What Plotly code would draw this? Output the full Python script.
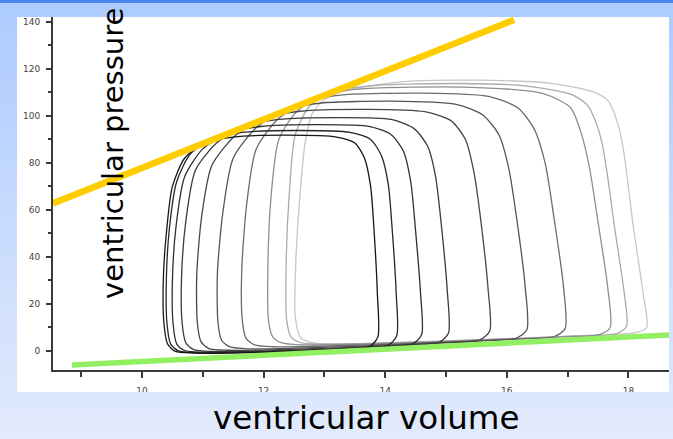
import plotly.graph_objects as go

# ---------------- data ----------------
# volume (x) / pressure (y) points of each pressure-volume loop, smallest -> largest
loop1_vol = [12.0, 13.3, 13.75, 13.88, 13.87, 13.82, 13.76, 13.66, 13.5, 13.2, 12.4, 11.5, 11.03, 10.7, 10.5, 10.4, 10.35, 10.36, 10.42, 10.55, 10.85, 12.0]
loop1_pres = [-0.6, 0.8, 2.0, 6, 25, 50, 70, 82, 88.5, 91, 91.8, 91, 88.5, 82, 70, 50, 30, 12, 3, -0.2, -0.9, -0.6]

loop2_vol = [12.2, 13.6, 14.05, 14.19, 14.18, 14.12, 14.05, 13.94, 13.76, 13.42, 12.6, 11.65, 11.2, 10.8, 10.57, 10.45, 10.40, 10.41, 10.47, 10.6, 10.9, 12.2]
loop2_pres = [-0.3, 1.3, 2.5, 6.5, 25, 50, 71, 83, 90, 93, 93.8, 93, 90.5, 84, 72, 52, 30, 12, 3, 0, -0.7, -0.3]

loop3_vol = [12.4, 14.0, 14.45, 14.60, 14.58, 14.5, 14.42, 14.3, 14.1, 13.75, 12.9, 11.95, 11.45, 11.0, 10.7, 10.56, 10.50, 10.51, 10.57, 10.7, 11.0, 12.4]
loop3_pres = [0.0, 1.8, 3.0, 7, 25, 51, 72, 85, 92, 95.5, 96.3, 95.5, 93, 86, 74, 53, 30, 12, 3, 0.2, -0.5, 0.0]

loop4_vol = [12.7, 14.4, 14.88, 15.04, 15.02, 14.93, 14.83, 14.7, 14.48, 14.1, 13.2, 12.25, 11.75, 11.25, 10.88, 10.72, 10.65, 10.66, 10.72, 10.85, 11.15, 12.7]
loop4_pres = [0.5, 2.5, 3.6, 7.5, 26, 52, 74, 87, 94.5, 98.5, 99.3, 98.5, 96, 89, 77, 55, 31, 12, 3.5, 0.6, -0.2, 0.5]

loop5_vol = [13.2, 15.0, 15.55, 15.72, 15.69, 15.58, 15.46, 15.32, 15.08, 14.65, 13.7, 12.6, 12.08, 11.55, 11.15, 10.98, 10.90, 10.91, 10.97, 11.1, 11.4, 13.2]
loop5_pres = [1.3, 3.5, 4.6, 8.5, 27, 54, 76, 90, 98, 101.8, 102.8, 102, 99.5, 92, 79, 57, 32, 12, 4, 1.0, 0.3, 1.3]

loop6_vol = [13.7, 15.6, 16.15, 16.33, 16.3, 16.17, 16.03, 15.87, 15.6, 15.15, 14.1, 12.95, 12.42, 11.9, 11.5, 11.33, 11.24, 11.25, 11.31, 11.45, 11.75, 13.7]
loop6_pres = [2.2, 4.3, 5.4, 9, 28, 55, 78, 92, 100.5, 105, 106.3, 105.5, 103, 95.5, 82, 59, 33, 12, 4.5, 1.7, 0.9, 2.2]

loop7_vol = [14.2, 16.2, 16.78, 16.96, 16.93, 16.78, 16.63, 16.45, 16.18, 15.7, 14.6, 13.3, 12.76, 12.25, 11.88, 11.72, 11.64, 11.65, 11.71, 11.85, 12.15, 14.2]
loop7_pres = [3.0, 5.1, 6.1, 9.5, 28, 56, 80, 94.5, 103.5, 108.3, 109.7, 109, 106.5, 99, 86, 62, 34, 13, 5.5, 2.6, 1.8, 3.0]

loop8_vol = [14.7, 16.9, 17.52, 17.70, 17.66, 17.5, 17.36, 17.22, 17.05, 16.6, 15.3, 13.6, 13.0, 12.55, 12.25, 12.12, 12.07, 12.08, 12.15, 12.3, 12.6, 14.7]
loop8_pres = [3.8, 6.0, 7.0, 10, 27, 55, 78, 93, 103.5, 109.5, 112.3, 111.5, 109, 102, 90, 65, 35, 13, 6, 3.4, 2.6, 3.8]

loop9_vol = [15.0, 17.2, 17.8, 17.97, 17.93, 17.77, 17.66, 17.57, 17.47, 17.33, 17.08, 16.3, 15.2, 13.85, 13.15, 12.75, 12.52, 12.42, 12.37, 12.38, 12.45, 12.6, 12.9, 15.0]
loop9_pres = [4.2, 6.4, 7.4, 10.5, 25, 53, 74, 88, 97, 104.5, 109, 112.8, 113.8, 113, 110.5, 104, 92, 66, 36, 13, 6, 3.6, 2.9, 4.2]

loop10_vol = [15.2, 17.5, 18.12, 18.30, 18.24, 18.08, 17.98, 17.9, 17.81, 17.68, 17.45, 16.7, 15.5, 14.3, 13.3, 12.98, 12.8, 12.68, 12.6, 12.53, 12.52, 12.6, 12.75, 13.1, 15.2]
loop10_pres = [4.5, 6.8, 7.8, 10, 25, 53, 74, 88.5, 98, 106, 110, 114, 115.2, 114.6, 110.5, 106.5, 101, 88, 67, 38, 15, 6, 3.8, 3.0, 4.5]

loop_colors = ["#161616", "#262626", "#303030", "#3a3a3a", "#464646",
               "#555555", "#6c6c6c", "#8e8e8e", "#ababab", "#c6c6c6"]

# end-systolic (orange) and end-diastolic (green) relations
espvr_vol = [8.536, 16.12]
espvr_pres = [62.8, 140.9]
edpvr_vol = [8.85, 18.67]
edpvr_pres = [-5.96, 6.8]

x_ticks = [10, 12, 14, 16, 18]
x_minor = [9, 11, 13, 15, 17]
y_ticks = [0, 20, 40, 60, 80, 100, 120, 140]
y_minor = [10, 30, 50, 70, 90, 110, 130]

x_title = "ventricular volume"
y_title = "ventricular pressure"

# ---------------- layout helpers ----------------
W, H = 673, 439
ML, MR, MT, MB = 53, 4, 17, 69
PW = W - ML - MR
PH = H - MT - MB


def px_x(px):
    return (px - ML) / PW


def px_y(py):
    return (H - MB - py) / PH


fig = go.Figure()

loops = [
    (loop10_vol, loop10_pres), (loop9_vol, loop9_pres), (loop8_vol, loop8_pres),
    (loop7_vol, loop7_pres), (loop6_vol, loop6_pres), (loop5_vol, loop5_pres),
    (loop4_vol, loop4_pres), (loop3_vol, loop3_pres), (loop2_vol, loop2_pres),
    (loop1_vol, loop1_pres),
]
cols = loop_colors[::-1]
for (vx, vy), c in zip(loops, cols):
    fig.add_trace(go.Scatter(x=vx, y=vy, mode="lines",
                             line=dict(color=c, width=1.3, shape="spline", smoothing=0.7),
                             hoverinfo="skip", showlegend=False))

fig.add_trace(go.Scatter(x=espvr_vol, y=espvr_pres, mode="lines",
                         line=dict(color="#FFCC00", width=6.5), showlegend=False))
fig.add_trace(go.Scatter(x=edpvr_vol, y=edpvr_pres, mode="lines",
                         line=dict(color="#92EF62", width=5.5), showlegend=False))

# background: vertical blue gradient made of strips
shapes = []
top_c = (172, 203, 255)
bot_c = (226, 234, 252)
step = 8
for y0 in range(0, H + step, step):
    t = min(1.0, (y0 + step / 2) / H)
    col = "rgb(%d,%d,%d)" % tuple(round(a + (b - a) * t) for a, b in zip(top_c, bot_c))
    shapes.append(dict(type="rect", xref="paper", yref="paper",
                       x0=px_x(-2), x1=px_x(W + 2), y0=px_y(min(y0 + step + 1, H + 2)), y1=px_y(y0),
                       fillcolor=col, line=dict(width=0),
                       layer="above" if y0 >= 392 else "below"))
# white panel
shapes.append(dict(type="rect", xref="paper", yref="paper",
                   x0=px_x(17), x1=px_x(669), y0=px_y(392), y1=px_y(17),
                   fillcolor="white", line=dict(width=0), layer="below"))
# dark blue rule at top
shapes.append(dict(type="rect", xref="paper", yref="paper",
                   x0=px_x(-2), x1=px_x(W + 2), y0=px_y(3), y1=px_y(-1),
                   fillcolor="#4a85ef", line=dict(width=0), layer="below"))

axis_font = dict(family="DejaVu Sans", size=9, color="#444")
fig.update_layout(
    width=W, height=H,
    margin=dict(l=ML, r=MR, t=MT, b=MB, pad=0),
    paper_bgcolor="rgb(200,218,254)",
    plot_bgcolor="white",
    showlegend=False,
    shapes=shapes,
    xaxis=dict(range=[8.536, 18.668], showgrid=False, zeroline=False,
               showline=True, linecolor="#3a3a3a", linewidth=2,
               ticks="outside", ticklen=6, tickwidth=1.5, tickcolor="#3a3a3a",
               tickvals=x_ticks, ticktext=[str(v) for v in x_ticks],
               tickfont=axis_font, ticklabelstandoff=5,
               minor=dict(tickvals=x_minor, ticks="outside", ticklen=5,
                          tickwidth=1.5, tickcolor="#3a3a3a")),
    yaxis=dict(range=[-8.1, 142.1], showgrid=False, zeroline=False,
               showline=True, linecolor="#3a3a3a", linewidth=2,
               ticks="outside", ticklen=5, tickwidth=1.5, tickcolor="#3a3a3a",
               tickvals=y_ticks, ticktext=[str(v) for v in y_ticks],
               tickfont=axis_font, ticklabelstandoff=4,
               minor=dict(tickvals=y_minor, ticks="outside", ticklen=3,
                          tickwidth=1.5, tickcolor="#3a3a3a")),
    annotations=[
        dict(text=y_title, xref="paper", yref="paper", x=px_x(113), y=px_y(154),
             xanchor="center", yanchor="middle", textangle=-90, showarrow=False,
             font=dict(family="DejaVu Sans", size=29, color="black")),
        dict(text=x_title, xref="paper", yref="paper", x=px_x(366), y=px_y(418),
             xanchor="center", yanchor="middle", showarrow=False,
             font=dict(family="DejaVu Sans", size=32.5, color="black")),
    ],
)

fig.write_html("out.html")
